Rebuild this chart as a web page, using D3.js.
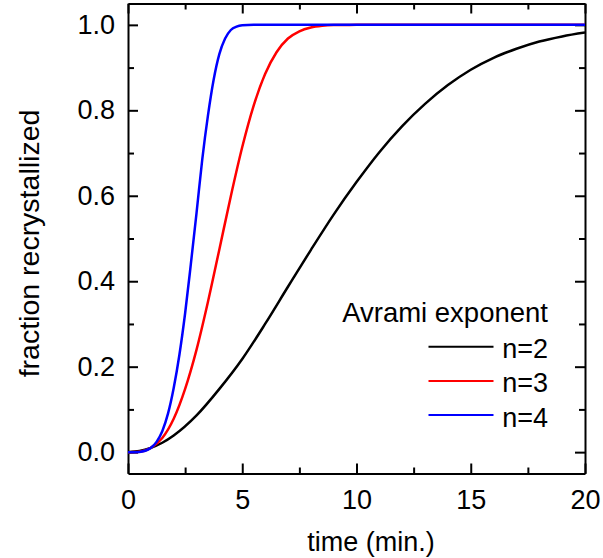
<!DOCTYPE html>
<html>
<head>
<meta charset="utf-8">
<script src="https://cdn.jsdelivr.net/npm/d3@7"></script>
<style>
  html, body { margin: 0; padding: 0; background: #fff; }
  svg { display: block; font-family: "Liberation Sans", Arial, sans-serif; }
</style>
</head>
<body>
<svg id="chart" width="603" height="558"></svg>
<script>
// Fraction recrystallized vs. time for three Avrami exponents
const timesN2 = [0, 0.5, 1, 1.5, 2, 3, 4, 5, 6, 7, 8, 9, 10, 11, 12, 13, 14, 15, 16, 17, 18, 19, 20];
const fracN2  = [0, 0.0025, 0.010, 0.022, 0.039, 0.086, 0.148, 0.218, 0.300, 0.387, 0.473, 0.556, 0.632, 0.702, 0.763, 0.815, 0.859, 0.895, 0.923, 0.944, 0.961, 0.973, 0.982];

const timesN3 = [0, 0.5, 1, 1.5, 2, 2.5, 3, 3.5, 4, 4.5, 5, 5.5, 6, 6.5, 7, 7.5, 8, 8.5, 9, 10, 12, 15, 20];
const fracN3  = [0, 0.001, 0.010, 0.033, 0.078, 0.148, 0.240, 0.352, 0.475, 0.599, 0.714, 0.811, 0.885, 0.936, 0.968, 0.985, 0.994, 0.998, 0.9995, 1, 1, 1, 1];

const timesN4 = [0, 0.5, 1, 1.25, 1.5, 1.75, 2, 2.25, 2.5, 2.75, 3, 3.25, 3.5, 3.75, 4, 4.25, 4.5, 4.75, 5, 5.5, 6, 10, 15, 20];
const fracN4  = [0, 0.0006, 0.010, 0.024, 0.049, 0.090, 0.150, 0.228, 0.325, 0.440, 0.560, 0.685, 0.788, 0.872, 0.932, 0.968, 0.988, 0.996, 0.999, 1, 1, 1, 1, 1];

const seriesLabels = ["n=2", "n=3", "n=4"];
const seriesColors = ["#000000", "#ff0000", "#0000ff"];
const seriesTimes  = [timesN2, timesN3, timesN4];
const seriesFracs  = [fracN2, fracN3, fracN4];

const xTicks = [0, 5, 10, 15, 20];
const xMinorTicks = [2.5, 7.5, 12.5, 17.5];
const yTicks = [0.0, 0.2, 0.4, 0.6, 0.8, 1.0];
const yMinorTicks = [0.1, 0.3, 0.5, 0.7, 0.9];

const legendTitle = "Avrami exponent";
const xLabel = "time (min.)";
const yLabel = "fraction recrystallized";

const svg = d3.select("#chart");
const plotLeft = 128, plotRight = 585, plotTop = 3.5, plotBottom = 473.5;

const x = d3.scaleLinear().domain([0, 20]).range([plotLeft, plotRight]);
const y = d3.scaleLinear().domain([-0.05, 1.05]).range([plotBottom, plotTop]);

const fmt1 = d3.format(".1f");

function styleAxis(g) {
  g.selectAll("path.domain").attr("stroke", "#000").attr("stroke-width", 2);
  g.selectAll(".tick line").attr("stroke", "#000").attr("stroke-width", 2);
  g.selectAll(".tick text").attr("fill", "#000").attr("font-size", 27)
    .attr("font-family", "'Liberation Sans', Arial, sans-serif");
}

// bottom axis with labels, ticks pointing inward
const gBottom = svg.append("g").attr("transform", `translate(0,${plotBottom})`)
  .call(d3.axisBottom(x).tickValues(xTicks).tickSize(-10).tickSizeOuter(0).tickFormat(d3.format("d")));
styleAxis(gBottom);
gBottom.selectAll(".tick text").attr("y", 35).attr("dy", 0);
svg.append("g").attr("transform", `translate(0,${plotBottom})`)
  .call(d3.axisBottom(x).tickValues(xMinorTicks).tickSize(-6).tickFormat(""))
  .call(g => g.select(".domain").remove())
  .call(styleAxis);

// top axis (ticks only)
svg.append("g").attr("transform", `translate(0,${plotTop})`)
  .call(d3.axisTop(x).tickValues(xTicks).tickSize(-10).tickSizeOuter(0).tickFormat(""))
  .call(styleAxis);
svg.append("g").attr("transform", `translate(0,${plotTop})`)
  .call(d3.axisTop(x).tickValues(xMinorTicks).tickSize(-6).tickFormat(""))
  .call(g => g.select(".domain").remove())
  .call(styleAxis);

// left axis with labels
const gLeft = svg.append("g").attr("transform", `translate(${plotLeft},0)`)
  .call(d3.axisLeft(y).tickValues(yTicks).tickSize(-10).tickSizeOuter(0).tickFormat(fmt1));
styleAxis(gLeft);
gLeft.selectAll(".tick text").attr("x", -13).attr("dy", "0.32em");
svg.append("g").attr("transform", `translate(${plotLeft},0)`)
  .call(d3.axisLeft(y).tickValues(yMinorTicks).tickSize(-6).tickFormat(""))
  .call(g => g.select(".domain").remove())
  .call(styleAxis);

// right axis (ticks only)
svg.append("g").attr("transform", `translate(${plotRight},0)`)
  .call(d3.axisRight(y).tickValues(yTicks).tickSize(-10).tickSizeOuter(0).tickFormat(""))
  .call(styleAxis);
svg.append("g").attr("transform", `translate(${plotRight},0)`)
  .call(d3.axisRight(y).tickValues(yMinorTicks).tickSize(-6).tickFormat(""))
  .call(g => g.select(".domain").remove())
  .call(styleAxis);

// curves
svg.append("clipPath").attr("id", "plotClip")
  .append("rect").attr("x", plotLeft).attr("y", plotTop)
  .attr("width", plotRight - plotLeft).attr("height", plotBottom - plotTop);

const line = d3.line()
  .x(d => x(d[0]))
  .y(d => y(d[1]))
  .curve(d3.curveMonotoneX);

const curves = svg.append("g").attr("clip-path", "url(#plotClip)");
seriesTimes.forEach((ts, i) => {
  const pts = ts.map((t, j) => [t, seriesFracs[i][j]]);
  curves.append("path")
    .datum(pts)
    .attr("d", line)
    .attr("fill", "none")
    .attr("stroke", seriesColors[i])
    .attr("stroke-width", 2.5)
    .attr("stroke-linejoin", "round");
});

// legend
const legend = svg.append("g");
legend.append("text")
  .attr("x", 548).attr("y", 321.5)
  .attr("text-anchor", "end")
  .attr("font-size", 27.5)
  .text(legendTitle);
seriesLabels.forEach((lab, i) => {
  const cy = 346.7 + i * 34.2;
  legend.append("line")
    .attr("x1", 428.5).attr("x2", 493.5)
    .attr("y1", cy).attr("y2", cy)
    .attr("stroke", seriesColors[i])
    .attr("stroke-width", 2);
  legend.append("text")
    .attr("x", 548).attr("y", cy + 11.5)
    .attr("text-anchor", "end")
    .attr("font-size", 27)
    .text(lab);
});

// axis titles
svg.append("text")
  .attr("x", 371).attr("y", 551)
  .attr("text-anchor", "middle")
  .attr("font-size", 27)
  .text(xLabel);

svg.append("text")
  .attr("transform", `translate(38.5,243.5) rotate(-90)`)
  .attr("text-anchor", "middle")
  .attr("font-size", 28.5)
  .text(yLabel);
</script>
</body>
</html>
